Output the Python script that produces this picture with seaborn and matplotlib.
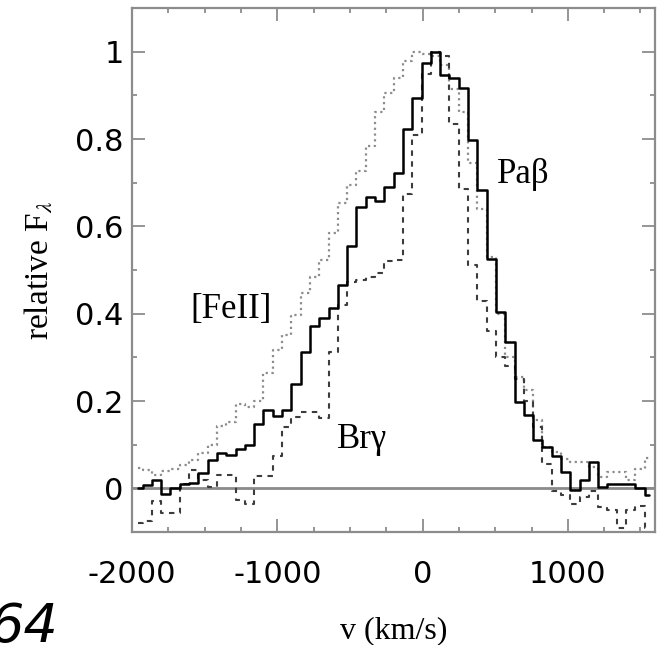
import numpy as np
import pandas as pd
import matplotlib
matplotlib.use("Agg")
import matplotlib.pyplot as plt
from matplotlib.ticker import MultipleLocator, FixedLocator
import seaborn as sns

# velocity bin centres (km/s)
velocity = [-1959, -1895, -1831, -1767, -1703, -1639, -1575, -1511, -1447, -1383,
            -1319, -1255, -1191, -1127, -1063, -999, -935, -871, -807, -743,
            -679, -615, -551, -487, -423, -359, -295, -231, -167, -103,
            -39, 25, 89, 153, 217, 281, 345, 409, 473, 537,
            601, 665, 729, 793, 857, 921, 985, 1049, 1113, 1177,
            1241, 1305, 1369, 1433, 1497, 1561]

pa_beta = [0.0, 0.008, 0.02, -0.014, 0.0, 0.011, 0.013, 0.035, 0.066, 0.081,
           0.076, 0.089, 0.10, 0.147, 0.18, 0.165, 0.18, 0.24, 0.313, 0.372,
           0.389, 0.414, 0.466, 0.555, 0.645, 0.668, 0.657, 0.691, 0.723, 0.823,
           0.894, 0.974, 1.0, 0.947, 0.94, 0.917, 0.798, 0.683, 0.525, 0.404,
           0.336, 0.198, 0.167, 0.11, 0.095, 0.074, 0.037, -0.003, 0.018, 0.06,
           0.002, 0.009, 0.009, 0.009, 0.0, -0.016]

br_gamma = [-0.08, -0.075, -0.03, -0.057, -0.057, 0.011, 0.041, 0.02, 0.003, 0.03,
            0.03, -0.026, -0.037, 0.028, 0.028, 0.073, 0.141, 0.164, 0.175, 0.175,
            0.16, 0.313, 0.42, 0.473, 0.478, 0.485, 0.494, 0.52, 0.524, 0.674,
            0.81, 0.95, 1.0, 0.99, 0.835, 0.685, 0.511, 0.43, 0.36, 0.30,
            0.28, 0.25, 0.20, 0.14, 0.055, -0.005, -0.016, -0.035, -0.02, -0.005,
            -0.043, -0.05, -0.09, -0.05, -0.04, -0.09]

fe_ii = [0.047, 0.041, 0.03, 0.04, 0.045, 0.053, 0.066, 0.082, 0.10, 0.142,
         0.152, 0.192, 0.186, 0.20, 0.263, 0.317, 0.351, 0.397, 0.447, 0.485,
         0.523, 0.584, 0.653, 0.695, 0.726, 0.783, 0.861, 0.905, 0.94, 0.978,
         1.0, 0.995, 0.99, 0.97, 0.915, 0.862, 0.745, 0.64, 0.53, 0.40,
         0.30, 0.255, 0.225, 0.156, 0.095, 0.083, 0.067, 0.06, 0.06, 0.05,
         0.026, 0.037, 0.037, 0.018, 0.044, 0.07]

x_ticks = [-2000, -1000, 0, 1000]
x_tick_labels = ["-2000", "-1000", "0", "1000"]
y_ticks = [0, 0.2, 0.4, 0.6, 0.8, 1.0]
y_tick_labels = ["0", "0.2", "0.4", "0.6", "0.8", "1"]

line_labels = ["Paβ", "Brγ", "[FeII]"]

sns.set_theme(style="ticks")
plt.rcParams['font.family'] = ['DejaVu Sans']
plt.rcParams['mathtext.fontset'] = 'stix'
plt.rcParams['text.color'] = 'black'

fig = plt.figure(figsize=(6.67, 6.45), dpi=100)
ax = fig.add_axes([132 / 667, 1 - 532 / 645, 523 / 667, 524 / 645])

df = pd.DataFrame({"v": velocity, "pa": pa_beta, "br": br_gamma, "fe": fe_ii})

sns.lineplot(data=df, x="v", y="fe", ax=ax, drawstyle="steps-mid",
             color="#8c8c8c", linestyle=(0, (1, 1.6)), linewidth=1.6)
sns.lineplot(data=df, x="v", y="br", ax=ax, drawstyle="steps-mid",
             color="#3c3c3c", linestyle=(0, (2.6, 2.6)), linewidth=1.5)
sns.lineplot(data=df, x="v", y="pa", ax=ax, drawstyle="steps-mid",
             color="black", linewidth=1.8)
ax.axhline(0, color="#8a8a8a", linewidth=2.0, zorder=1)

ax.set_xlim(-2000, 1600)
ax.set_ylim(-0.1, 1.1)

ax.xaxis.set_major_locator(FixedLocator(x_ticks))
ax.set_xticklabels(x_tick_labels)
ax.xaxis.set_minor_locator(MultipleLocator(250))
ax.yaxis.set_major_locator(FixedLocator(y_ticks))
ax.set_yticklabels(y_tick_labels)
ax.yaxis.set_minor_locator(MultipleLocator(0.1))

frame_col = "#8c8c8c"
for sp in ax.spines.values():
    sp.set_visible(True)
    sp.set_color(frame_col)
    sp.set_linewidth(1.6)

ax.tick_params(which="both", direction="in", top=True, right=True,
               color=frame_col, width=1.3, labelcolor="black")
ax.tick_params(which="major", length=9.5, labelsize=22)
ax.tick_params(which="minor", length=3.8)
ax.tick_params(axis="y", which="major", pad=6)
ax.tick_params(axis="x", which="major", pad=20)

serif = "Liberation Serif"
ax.set_xlabel("v (km/s)", fontfamily=serif, fontsize=23, color="black")
ax.xaxis.set_label_coords(0.5, -0.16)
ax.set_ylabel(r"relative F$_\lambda$", fontfamily=serif, fontsize=24, color="black")
ax.yaxis.set_label_coords(-0.148, 0.5)

ax.text(691, 0.70, line_labels[0], fontfamily=serif, fontsize=25, ha="center",
        va="baseline", color="black")
ax.text(-417, 0.092, line_labels[1], fontfamily=serif, fontsize=25, ha="center",
        va="baseline", color="black")
ax.text(-1319, 0.39, line_labels[2], fontfamily=serif, fontsize=25, ha="center",
        va="baseline", color="black")

fig.text(-0.016, -0.012, "64", fontsize=39, style="italic", fontfamily="DejaVu Sans",
         ha="left", va="bottom", color="black")

fig.savefig("out.png", dpi=100)
